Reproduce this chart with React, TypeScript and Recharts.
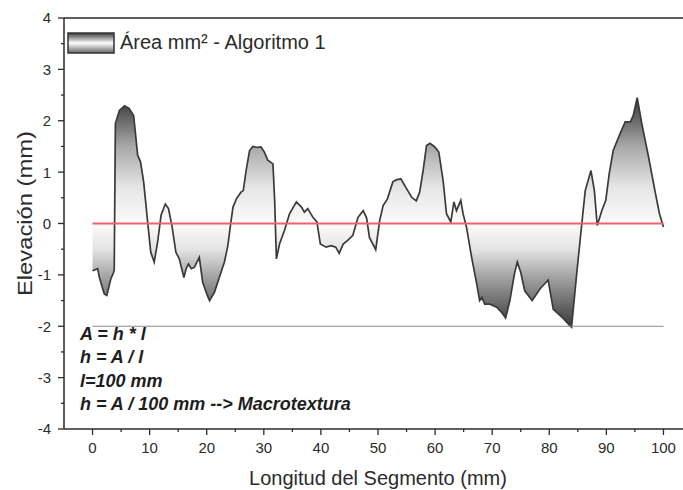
import React from 'react'
import {ComposedChart, Area, XAxis, YAxis, ReferenceLine, Legend} from 'recharts'

// posición a lo largo del segmento (mm)
const posMm = [
  0, 0.9, 1.2, 2.05, 2.5, 3.2, 3.7, 3.8, 4.0, 4.1, 4.7, 5.6, 6.4, 7.2, 7.9, 8.4, 8.95, 9.65,
  10.2, 10.8, 11.4, 12.0, 12.75, 13.3, 13.9, 14.6, 15.2, 16.0, 16.4, 16.8, 17.3, 17.85, 18.7, 19.3,
  20.1, 20.5, 21.35, 22.2, 23.1, 23.7, 24.2, 24.6, 25.2, 26.0, 26.4, 26.9, 27.5, 28.1, 28.9, 29.5,
  30.1, 30.7, 31.6, 31.9, 32.2, 32.75, 33.6, 34.5, 35.7, 36.6, 37.1, 37.7, 38.6, 39.3, 39.9,
  40.9, 41.8, 42.6, 43.2, 43.9, 44.7, 45.6, 46.5, 47.4, 48.0, 48.5, 49.6,
  50.3, 50.9, 51.65, 52.6, 53.2, 54.0, 55.0, 55.9, 56.7, 57.3, 57.9, 58.5, 59.1, 59.95,
  60.65, 61.4, 62.0, 62.75, 63.3, 63.75, 64.5, 64.9, 65.5, 66.4, 67.3, 67.8, 68.2, 68.7, 69.6,
  70.8, 71.65, 72.35, 73.1, 73.9, 74.4, 75.0, 75.7, 77.0, 78.4, 79.8,
  80.7, 82.2, 83.6, 83.9, 84.8, 85.7, 86.3, 87.3, 87.9, 88.4, 89.2, 89.9,
  90.5, 91.2, 92.4, 93.3, 94.2, 94.7, 95.4, 96.2, 97.4, 98.5, 99.3, 100,
]

// elevación (mm)
const elevMm = [
  -0.92, -0.88, -1.05, -1.37, -1.4, -1.08, -0.95, -0.9, 1.95, 1.98, 2.2, 2.29, 2.24, 2.1, 1.33, 1.2, 0.81, 0.03,
  -0.56, -0.75, -0.36, 0.16, 0.38, 0.29, -0.04, -0.56, -0.69, -1.05, -0.88, -0.79, -0.88, -0.85, -0.66, -1.15,
  -1.4, -1.5, -1.34, -1.05, -0.75, -0.43, 0.0, 0.32, 0.48, 0.61, 0.64, 1.03, 1.42, 1.5, 1.48, 1.49,
  1.39, 1.23, 1.16, 0.45, -0.69, -0.4, -0.14, 0.19, 0.42, 0.32, 0.22, 0.29, 0.12, 0.03, -0.4,
  -0.46, -0.43, -0.46, -0.58, -0.4, -0.33, -0.23, 0.12, 0.25, 0.11, -0.27, -0.51,
  0.06, 0.35, 0.48, 0.81, 0.85, 0.87, 0.68, 0.51, 0.44, 0.61, 1.03, 1.52, 1.56, 1.49,
  1.39, 0.84, 0.19, 0.03, 0.42, 0.25, 0.45, 0.19, -0.07, -0.66, -1.18, -1.5, -1.44, -1.57, -1.57,
  -1.63, -1.73, -1.84, -1.5, -0.98, -0.75, -0.95, -1.31, -1.5, -1.27, -1.1,
  -1.67, -1.82, -1.99, -2.02, -0.98, 0.0, 0.64, 1.03, 0.64, -0.04, 0.25, 0.45,
  0.97, 1.42, 1.75, 1.98, 1.98, 2.1, 2.45, 1.95, 1.29, 0.64, 0.19, -0.07,
]

const xTicks = [0, 5, 10, 15, 20, 25, 30, 35, 40, 45, 50, 55, 60, 65, 70, 75, 80, 85, 90, 95, 100]
const yTicks = [-4, -3.5, -3, -2.5, -2, -1.5, -1, -0.5, 0, 0.5, 1, 1.5, 2, 2.5, 3, 3.5, 4]
const seriesName = 'Área mm² - Algoritmo 1'
const formulaLines = ['A = h * l', 'h = A / l', 'l=100 mm', 'h = A / 100 mm --> Macrotextura']

// gris del relleno según la elevación
const shadeLevels = [2.45, 1.5, 0.7, 0, -0.5, -1.0, -1.5, -2.02]
const shadeColors = ['#353535', '#a8a8a8', '#e6e6e6', '#fbfbfb', '#e4e4e4', '#a8a8a8', '#717171', '#383838']

const data = posMm.map((x, i) => ({x, elev: elevMm[i]}))

const maxElev = Math.max(...elevMm)
const minElev = Math.min(...elevMm)
const toOffset = (v: number) => Math.min(1, Math.max(0, (maxElev - v) / (maxElev - minElev)))

const font = 'Arial, "Liberation Sans", sans-serif'
const ink = '#2b2b2b'

const XTick = (props: any) => {
  const {x, y, payload} = props
  const major = payload.value % 10 === 0
  const top = y - 8
  return (
    <g>
      <line x1={x} x2={x} y1={top} y2={top + (major ? 6 : 3)} stroke={ink} strokeWidth={1.3}/>
      {major && (
        <text x={x} y={top + 13} dy="0.71em" textAnchor="middle" fontSize={15} fontFamily={font} fill={ink}>
          {payload.value}
        </text>
      )}
    </g>
  )
}

const YTick = (props: any) => {
  const {x, y, payload} = props
  const major = Number.isInteger(payload.value)
  const right = x + 8
  return (
    <g>
      <line x1={right - (major ? 6 : 3)} x2={right} y1={y} y2={y} stroke={ink} strokeWidth={1.3}/>
      {major && (
        <text x={right - 13} y={y} dy="0.36em" textAnchor="end" fontSize={15} fontFamily={font} fill={ink}>
          {payload.value}
        </text>
      )}
    </g>
  )
}

const YTitle = (props: any) => {
  const {viewBox} = props
  const cx = 25
  const cy = viewBox.y + viewBox.height / 2 - 10
  return (
    <text x={cx} y={cy} transform={`rotate(-90, ${cx}, ${cy})`} textAnchor="middle" dominantBaseline="central"
      fontSize={20} fontFamily={font} fill={ink} textLength={165} lengthAdjust="spacingAndGlyphs">
      Elevación (mm)
    </text>
  )
}

const LegendBox = (props: any) => {
  const {payload} = props
  return (
    <div style={{display: 'flex', alignItems: 'center', fontFamily: font, fontSize: 20, color: ink}}>
      <svg width={48} height={22}>
        <defs>
          <linearGradient id="swatchFill" x1="0" y1="0" x2="0" y2="1">
            <stop offset="0" stopColor="#3a3a3a"/>
            <stop offset="0.5" stopColor="#ffffff"/>
            <stop offset="1" stopColor="#666"/>
          </linearGradient>
        </defs>
        <rect x={1} y={1} width={46} height={20} fill="url(#swatchFill)" stroke="#333" strokeWidth={1.5}/>
      </svg>
      <span style={{marginLeft: 5}}>{payload && payload[0] ? payload[0].value : seriesName}</span>
    </div>
  )
}

export default function App() {
  return (
    <div style={{position: 'absolute', left: 0, top: 0, width: 683, height: 490, overflow: 'hidden', background: '#fff'}}>
      <ComposedChart width={700} height={490} data={data} margin={{top: 18, right: 8, bottom: 0, left: 0}}>
        <defs>
          <linearGradient id="elevFill" x1="0" y1="0" x2="0" y2="1">
            {shadeLevels.map((v, i) => (
              <stop key={v} offset={toOffset(v)} stopColor={shadeColors[i]}/>
            ))}
          </linearGradient>
        </defs>
        <XAxis dataKey="x" type="number" domain={[-5, 105]} allowDataOverflow ticks={xTicks} interval={0}
          tick={<XTick/>} tickLine={false} tickSize={6} tickMargin={2} height={61}
          axisLine={{stroke: ink, strokeWidth: 1.5}}
          label={{value: 'Longitud del Segmento (mm)', position: 'insideBottom', offset: 5, fontSize: 20, fontFamily: font, fill: ink}}/>
        <YAxis type="number" domain={[-4, 4]} allowDataOverflow ticks={yTicks} interval={0}
          tick={<YTick/>} tickLine={false} tickSize={6} tickMargin={2} width={64}
          axisLine={{stroke: ink, strokeWidth: 1.5}} label={<YTitle/>}/>
        <ReferenceLine y={4} stroke={ink} strokeWidth={1.5}/>
        <Area type="linear" dataKey="elev" name={seriesName} baseValue={0} stroke="#3a3a3a" strokeWidth={1.7}
          fill="url(#elevFill)" fillOpacity={1} dot={false} activeDot={false} isAnimationActive={false}/>
        <ReferenceLine segment={[{x: 0, y: 0}, {x: 100, y: 0}]} stroke="#f0606e" strokeWidth={2}/>
        <ReferenceLine segment={[{x: 0, y: -2}, {x: 100, y: -2}]} stroke="#8a8a8a" strokeWidth={1}/>
        <Legend layout="vertical" align="center" verticalAlign="middle" content={<LegendBox/>}
          wrapperStyle={{left: 67, top: 31, width: 'auto'}}/>
      </ComposedChart>
      <div style={{position: 'absolute', left: 80, top: 323, fontFamily: font, fontSize: 18, fontWeight: 'bold',
        fontStyle: 'italic', lineHeight: '23.3px', color: '#1e1e1e', whiteSpace: 'pre'}}>
        {formulaLines.map(l => <div key={l}>{l}</div>)}
      </div>
    </div>
  )
}
